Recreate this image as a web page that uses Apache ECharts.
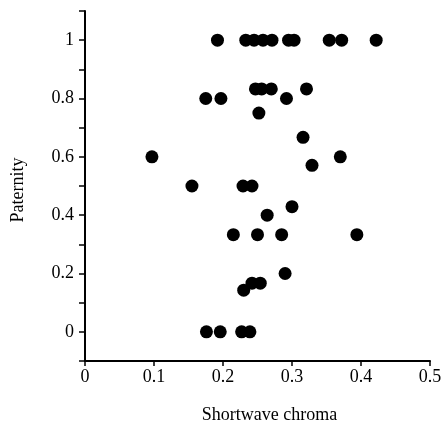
<!DOCTYPE html>
<html>
<head>
<meta charset="utf-8">
<script src="https://cdn.jsdelivr.net/npm/echarts@6/dist/echarts.min.js"></script>
<style>
html,body{margin:0;padding:0;background:#fff;}
#chart{width:442px;height:423px;}
</style>
</head>
<body>
<div id="chart"></div>
<script>
// Data
var chroma = [
  0.192, 0.233, 0.245, 0.258, 0.271, 0.295, 0.303, 0.354, 0.372, 0.422,
  0.247, 0.256, 0.270, 0.321,
  0.175, 0.197, 0.292,
  0.252,
  0.316,
  0.097, 0.370,
  0.329,
  0.155, 0.229, 0.242,
  0.300,
  0.264,
  0.215, 0.250, 0.285, 0.394,
  0.290,
  0.242, 0.254,
  0.230,
  0.176, 0.196, 0.227, 0.239
];
var paternity = [
  1, 1, 1, 1, 1, 1, 1, 1, 1, 1,
  0.833, 0.833, 0.833, 0.833,
  0.8, 0.8, 0.8,
  0.75,
  0.667,
  0.6, 0.6,
  0.571,
  0.5, 0.5, 0.5,
  0.429,
  0.4,
  0.333, 0.333, 0.333, 0.333,
  0.2,
  0.167, 0.167,
  0.143,
  0, 0, 0, 0
];
var yTickLabels = ['0', '0.2', '0.4', '0.6', '0.8', '1'];
var xTickLabels = ['0', '0.1', '0.2', '0.3', '0.4', '0.5'];

var points = chroma.map(function (c, i) { return [c, paternity[i]]; });
var font = "'Liberation Serif', 'DejaVu Serif', serif";

var chart = echarts.init(document.getElementById('chart'), null, {renderer: 'canvas'});
chart.setOption({
  animation: false,
  backgroundColor: '#fff',
  textStyle: {fontFamily: font},
  grid: {left: 85, right: 12, top: 11, bottom: 62, containLabel: false, outerBoundsMode: 'none'},
  xAxis: {
    type: 'value', min: 0, max: 0.5, interval: 0.1,
    name: 'Shortwave chroma', nameLocation: 'middle', nameGap: 45,
    nameTextStyle: {fontFamily: font, fontSize: 18, color: '#000', padding: [0, 0, 0, 24]},
    axisLine: {show: true, onZero: false, lineStyle: {color: '#000', width: 2}},
    axisTick: {show: true, inside: false, length: 5, lineStyle: {color: '#000', width: 1.5}},
    axisLabel: {
      fontFamily: font, fontSize: 18, color: '#000', margin: 7,
      formatter: function (v) {
        var i = Math.round(v * 10);
        return xTickLabels[i] !== undefined ? xTickLabels[i] : '';
      }
    },
    splitLine: {show: false}
  },
  yAxis: {
    type: 'value', min: -0.1, max: 1.1, interval: 0.1,
    name: 'Paternity', nameLocation: 'middle', nameGap: 58, nameRotate: 90,
    nameTextStyle: {fontFamily: font, fontSize: 18, color: '#000', padding: [0, 8, 0, 0]},
    axisLine: {show: true, onZero: false, lineStyle: {color: '#000', width: 2}},
    axisTick: {show: true, inside: false, length: 6, lineStyle: {color: '#000', width: 1.5}},
    axisLabel: {
      fontFamily: font, fontSize: 18, color: '#000', margin: 11,
      formatter: function (v) {
        var k = Math.round(v * 10);
        if (k < 0 || k > 10 || k % 2 !== 0) return '';
        return yTickLabels[k / 2];
      }
    },
    splitLine: {show: false}
  },
  series: [{
    type: 'scatter',
    data: points,
    symbol: 'circle',
    symbolSize: 13,
    itemStyle: {color: '#000', opacity: 1},
    emphasis: {disabled: true}
  }]
});
</script>
</body>
</html>
